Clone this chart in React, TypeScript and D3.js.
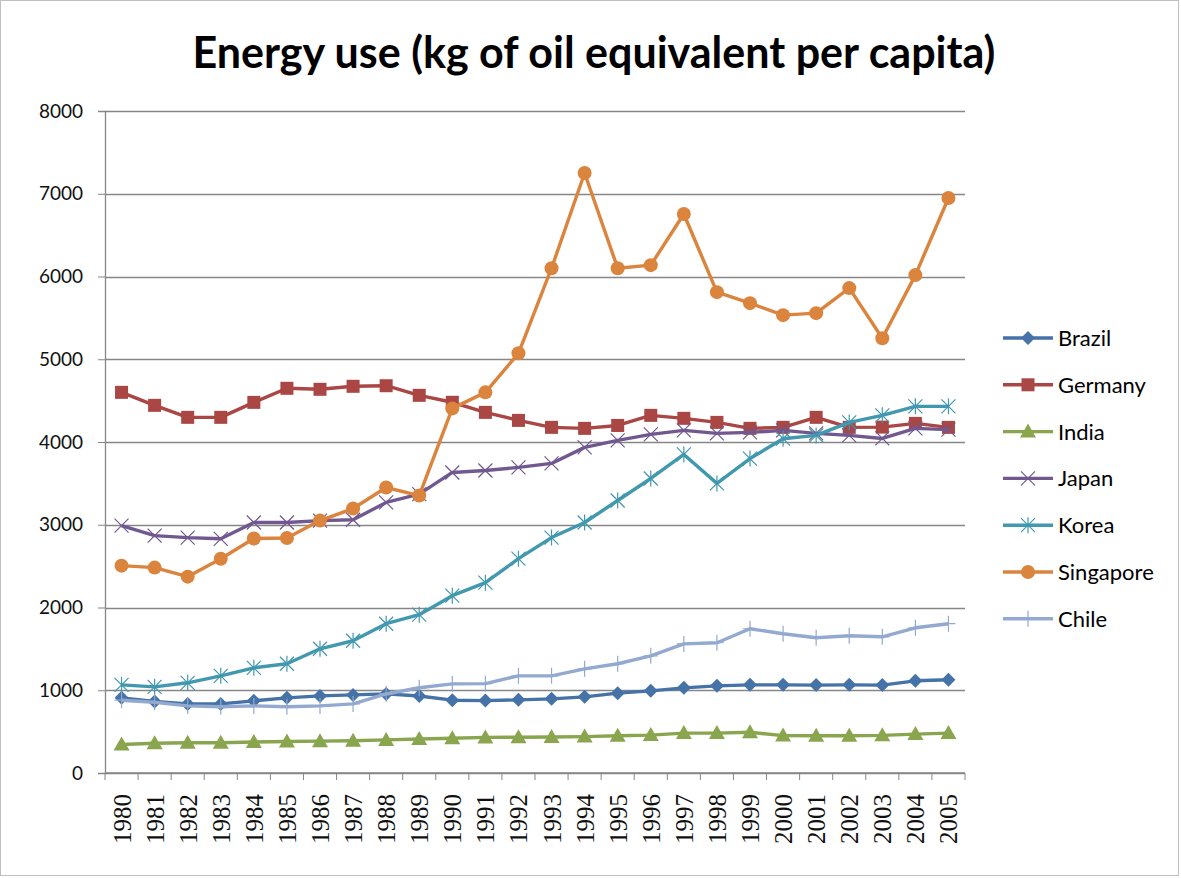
import { useRef, useEffect } from 'react';
import * as d3 from 'd3';

const years = d3.range(1980, 2006).map(String);
const yTicks = [0, 1000, 2000, 3000, 4000, 5000, 6000, 7000, 8000];

const brazil = [908, 865, 835, 835, 872, 908, 932, 944, 956, 930, 880, 875, 884, 896, 920, 965, 993, 1029, 1053, 1065, 1065, 1062, 1065, 1062, 1114, 1126];
const germany = [4600, 4443, 4298, 4298, 4479, 4649, 4637, 4673, 4680, 4564, 4480, 4358, 4261, 4177, 4165, 4200, 4322, 4286, 4237, 4165, 4177, 4298, 4177, 4180, 4225, 4177];
const india = [345, 360, 365, 365, 375, 380, 385, 390, 400, 411, 420, 430, 432, 435, 440, 450, 458, 482, 482, 492, 452, 450, 450, 455, 470, 482];
const japan = [2990, 2869, 2845, 2830, 3027, 3027, 3050, 3060, 3270, 3370, 3632, 3656, 3693, 3741, 3935, 4019, 4092, 4140, 4104, 4116, 4140, 4104, 4080, 4043, 4165, 4150];
const korea = [1065, 1041, 1090, 1174, 1271, 1320, 1501, 1598, 1804, 1913, 2143, 2300, 2590, 2845, 3027, 3293, 3559, 3850, 3500, 3800, 4040, 4080, 4237, 4322, 4431, 4431];
const singapore = [2506, 2482, 2373, 2590, 2833, 2840, 3050, 3196, 3450, 3353, 4406, 4600, 5072, 6100, 7250, 6100, 6137, 6755, 5811, 5678, 5533, 5557, 5860, 5254, 6017, 6949];
const chile = [880, 855, 811, 800, 811, 800, 811, 835, 955, 1030, 1077, 1080, 1174, 1174, 1259, 1320, 1416, 1560, 1574, 1743, 1683, 1634, 1658, 1646, 1755, 1804];

const seriesNames = ['Brazil', 'Germany', 'India', 'Japan', 'Korea', 'Singapore', 'Chile'];
const seriesValues = [brazil, germany, india, japan, korea, singapore, chile];
const seriesColors = ['#4572A7', '#AA4643', '#89A54E', '#71588F', '#4198AF', '#DB843D', '#93A9CF'];
const seriesMarkers = ['diamond', 'square', 'triangle', 'x', 'star', 'circle', 'plus'];

const title = 'Energy use (kg of oil equivalent per capita)';

function drawMarker(g: any, kind: string, x: number, y: number, color: string) {
  if (kind === 'diamond') {
    g.append('path').attr('d', `M${x},${y - 7}L${x + 7},${y}L${x},${y + 7}L${x - 7},${y}Z`).attr('fill', color);
  } else if (kind === 'square') {
    g.append('rect').attr('x', x - 6.5).attr('y', y - 6.5).attr('width', 13).attr('height', 13).attr('fill', color);
  } else if (kind === 'triangle') {
    g.append('path').attr('d', `M${x},${y - 8}L${x + 8},${y + 6}L${x - 8},${y + 6}Z`).attr('fill', color);
  } else if (kind === 'circle') {
    g.append('circle').attr('cx', x).attr('cy', y).attr('r', 7).attr('fill', color);
  } else if (kind === 'x') {
    g.append('path').attr('d', `M${x - 7},${y - 7}L${x + 7},${y + 7}M${x - 7},${y + 7}L${x + 7},${y - 7}`)
      .attr('stroke', color).attr('stroke-width', 1.2).attr('fill', 'none');
  } else if (kind === 'star') {
    g.append('path').attr('d', `M${x - 7},${y - 7}L${x + 7},${y + 7}M${x - 7},${y + 7}L${x + 7},${y - 7}M${x},${y - 8}L${x},${y + 8}`)
      .attr('stroke', color).attr('stroke-width', 1.2).attr('fill', 'none');
  } else if (kind === 'plus') {
    g.append('path').attr('d', `M${x},${y - 8}L${x},${y + 8}M${x - 7},${y}L${x + 7},${y}`)
      .attr('stroke', color).attr('stroke-width', 1.2).attr('fill', 'none');
  }
}

export default function App() {
  const svgRef = useRef<SVGSVGElement>(null);
  const width = 1181;
  const height = 878;

  useEffect(() => {
    if (!svgRef.current) return;
    const svg = d3.select(svgRef.current);
    svg.selectAll('*').remove();

    const margin = { top: 111, right: 216, bottom: 105, left: 105 };
    const innerWidth = width - margin.left - margin.right;
    const innerHeight = height - margin.top - margin.bottom;

    svg.append('rect').attr('x', 0.5).attr('y', 0.5).attr('width', width - 3).attr('height', height - 3)
      .attr('fill', '#fff').attr('stroke', '#bfbfbf');

    svg.append('text')
      .attr('x', 594).attr('y', 68)
      .attr('text-anchor', 'middle')
      .attr('font-family', 'Lato, sans-serif')
      .attr('font-weight', 'bold')
      .attr('font-size', '43px')
      .attr('fill', '#000')
      .text(title);

    const g = svg.append('g').attr('transform', `translate(${margin.left},${margin.top})`);

    const x = d3.scaleBand().domain(years).range([0, innerWidth]);
    const y = d3.scaleLinear().domain([0, 8000]).range([innerHeight, 0]);

    // gridlines
    g.append('g').selectAll('line').data(yTicks).enter().append('line')
      .attr('x1', 0).attr('x2', innerWidth)
      .attr('y1', d => Math.round(y(d)) + 0.5).attr('y2', d => Math.round(y(d)) + 0.5)
      .attr('stroke', '#868686').attr('stroke-width', 1.3);

    // y axis
    const yAxis = d3.axisLeft(y).tickValues(yTicks).tickFormat(d3.format('d') as any).tickSize(7).tickPadding(15);
    const ya = g.append('g').call(yAxis);
    ya.select('.domain').attr('stroke', '#868686').attr('stroke-width', 1.3);
    ya.selectAll('line').attr('stroke', '#868686');
    ya.selectAll('text').attr('font-family', 'Lato, sans-serif').attr('font-size', '19px').attr('fill', '#111');

    // x axis
    const xa = g.append('g').attr('transform', `translate(0,${innerHeight})`);
    xa.append('line').attr('x1', 0).attr('x2', innerWidth).attr('stroke', '#868686').attr('stroke-width', 1.3);
    xa.selectAll('.tk').data(years.concat(['end'])).enter().append('line')
      .attr('x1', (d, i) => i * x.step()).attr('x2', (d, i) => i * x.step())
      .attr('y1', 0).attr('y2', 7).attr('stroke', '#868686');
    xa.selectAll('.lbl').data(years).enter().append('text')
      .attr('transform', d => `translate(${(x(d) as number) + x.bandwidth() / 2 + 9},21) rotate(-90)`)
      .attr('text-anchor', 'end')
      .attr('font-family', "'Times New Roman', 'Liberation Serif', 'DejaVu Serif', serif")
      .attr('font-size', '25px')
      .attr('fill', '#111')
      .text(d => d);

    // series
    const line = d3.line<number>()
      .x((d, i) => (x(years[i]) as number) + x.bandwidth() / 2)
      .y(d => y(d));

    seriesValues.forEach((vals, si) => {
      const color = seriesColors[si];
      const sg = g.append('g');
      sg.append('path').datum(vals).attr('d', line).attr('fill', 'none')
        .attr('stroke', color).attr('stroke-width', 3.4).attr('stroke-linejoin', 'round');
      vals.forEach((v, i) => {
        drawMarker(sg, seriesMarkers[si], (x(years[i]) as number) + x.bandwidth() / 2, y(v), color);
      });
    });

    // legend
    const lg = svg.append('g').attr('transform', 'translate(1003,338)');
    seriesNames.forEach((name, i) => {
      const row = lg.append('g').attr('transform', `translate(0,${i * 46.8})`);
      row.append('line').attr('x1', 0).attr('x2', 50).attr('y1', 0).attr('y2', 0)
        .attr('stroke', seriesColors[i]).attr('stroke-width', 3.4);
      drawMarker(row, seriesMarkers[i], 25, 0, seriesColors[i]);
      row.append('text').attr('x', 55).attr('y', 8)
        .attr('font-family', 'Lato, sans-serif').attr('font-size', '22px').attr('fill', '#000')
        .text(name);
    });
  }, []);

  return (
    <svg ref={svgRef} width={width} height={height} style={{ position: 'absolute', left: 0, top: 0 }} />
  );
}
